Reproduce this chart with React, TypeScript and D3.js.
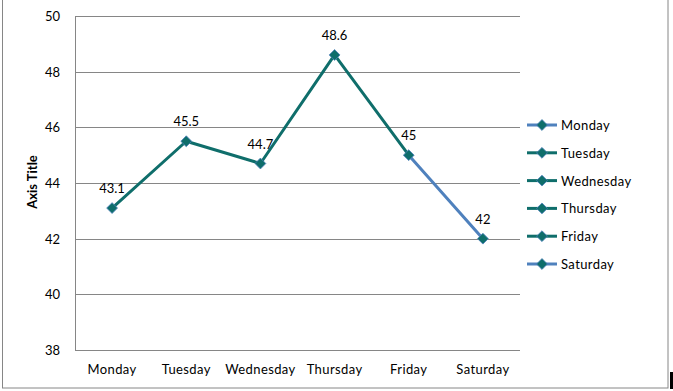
import { useRef, useEffect } from "react";
import * as d3 from "d3";

const days = ["Monday", "Tuesday", "Wednesday", "Thursday", "Friday", "Saturday"];
const values = [43.1, 45.5, 44.7, 48.6, 45, 42];
// colour of the segment that ends at each point (first entry is Monday's series colour)
const seriesColors = ["#4F81BD", "#0F6E6B", "#0F6E6B", "#0F6E6B", "#0F6E6B", "#4F81BD"];
const yTicks = [38, 40, 42, 44, 46, 48, 50];

const W = 673;
const H = 391;
const FONT = "Lato, 'Open Sans', sans-serif";

export default function App() {
  const svgRef = useRef(null);

  function renderChart() {
    const svg = d3.select(svgRef.current);
    svg.selectAll("*").remove();

    const left = 75, right = 520, top = 16, bottom = 350;

    const x = d3.scaleBand().domain(days).range([left, right]);
    const y = d3.scaleLinear().domain([38, 50]).range([bottom, top]);
    const cx = (d: string) => (x(d) as number) + x.bandwidth() / 2;

    // outer border
    svg.append("rect")
      .attr("x", 2.5).attr("y", -2)
      .attr("width", 665.5).attr("height", 390)
      .attr("fill", "white").attr("stroke", "#868686").attr("stroke-width", 1);

    // gridlines
    svg.append("g").selectAll("line").data(yTicks).join("line")
      .attr("x1", left).attr("x2", right)
      .attr("y1", (d) => Math.round(y(d)) + 0.5).attr("y2", (d) => Math.round(y(d)) + 0.5)
      .attr("stroke", "#868686");

    svg.append("line")
      .attr("x1", left + 0.5).attr("x2", left + 0.5)
      .attr("y1", top).attr("y2", bottom + 0.5)
      .attr("stroke", "#868686");

    // y tick labels
    svg.append("g").selectAll("text").data(yTicks).join("text")
      .attr("x", 60).attr("y", (d) => y(d) + 5)
      .attr("text-anchor", "end")
      .attr("font-family", FONT).attr("font-size", 13)
      .text((d) => d);

    // x labels
    svg.append("g").selectAll("text").data(days).join("text")
      .attr("x", (d) => cx(d)).attr("y", 374)
      .attr("text-anchor", "middle")
      .attr("font-family", FONT).attr("font-size", 13)
      .attr("letter-spacing", 0.4)
      .text((d) => d);

    // axis title
    svg.append("text")
      .attr("transform", `translate(37,182) rotate(-90)`)
      .attr("text-anchor", "middle")
      .attr("font-family", FONT).attr("font-size", 13).attr("font-weight", "bold")
      .text("Axis Title");

    // line segments
    const pts = days.map((d, i) => ({ d, v: values[i] }));
    svg.append("g").selectAll("line").data(pts.slice(1)).join("line")
      .attr("x1", (_, i) => cx(pts[i].d)).attr("y1", (_, i) => y(pts[i].v))
      .attr("x2", (p) => cx(p.d)).attr("y2", (p) => y(p.v))
      .attr("stroke", (_, i) => seriesColors[i + 1])
      .attr("stroke-width", 3)
      .attr("stroke-linecap", "round");

    const diamond = d3.symbol().type(d3.symbolDiamond2).size(75);

    svg.append("g").selectAll("path").data(pts).join("path")
      .attr("transform", (p) => `translate(${cx(p.d)},${y(p.v)})`)
      .attr("d", diamond() as string)
      .attr("fill", "#0F6E6B").attr("stroke", "#4F81BD").attr("stroke-width", 0.8);

    // data labels
    svg.append("g").selectAll("text").data(pts).join("text")
      .attr("x", (p) => cx(p.d)).attr("y", (p) => y(p.v) - 15)
      .attr("text-anchor", "middle")
      .attr("font-family", FONT).attr("font-size", 13)
      .text((p) => p.v);

    // legend
    const lg = svg.append("g").selectAll("g").data(days).join("g")
      .attr("transform", (_, i) => `translate(527,${125 + i * 27.8})`);
    lg.append("line").attr("x1", 0).attr("x2", 30)
      .attr("stroke", (_, i) => seriesColors[i]).attr("stroke-width", 3);
    lg.append("path").attr("transform", "translate(15,0)")
      .attr("d", diamond() as string)
      .attr("fill", "#0F6E6B").attr("stroke", "#4F81BD").attr("stroke-width", 0.8);
    lg.append("text").attr("x", 34).attr("y", 5)
      .attr("font-family", FONT).attr("font-size", 13)
      .attr("letter-spacing", 0.4)
      .text((d) => d);

    // cursor bar at bottom right
    svg.append("rect").attr("x", 670).attr("y", 372).attr("width", 3).attr("height", 17).attr("fill", "black");
  }

  useEffect(() => {
    renderChart();
  }, []);

  return (
    <div style={{ position: "absolute", left: 0, top: 0 }}>
      <svg ref={svgRef} width={W} height={H} style={{ display: "block" }} />
    </div>
  );
}
